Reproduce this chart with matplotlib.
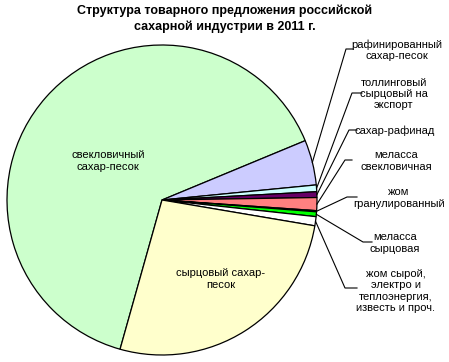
import numpy as np
import matplotlib
matplotlib.use('Agg')
import matplotlib.pyplot as plt

plt.rcParams['font.family'] = ['Liberation Sans', 'DejaVu Sans']

# Data (shares, %), clockwise order as in the chart
labels = ['свекловичный\nсахар-песок',
          'рафинированный\nсахар-песок',
          'толлинговый\nсырцовый на\nэкспорт',
          'сахар-рафинад',
          'меласса\nсвекловичная',
          'жом\nгранулированный',
          'меласса\nсырцовая',
          'жом сырой,\nэлектро и\nтеплоэнергия,\nизвесть и проч.',
          'сырцовый сахар-\nпесок']
shares = [64.4, 4.7, 0.7, 0.6, 1.35, 0.12, 0.5, 0.95, 26.7]
colors = ['#CCFFCC', '#CCCCFF', '#CCFFFF', '#660066', '#FF8080',
          '#FFFFFF', '#00FF00', '#FFFFFF', '#FFFFCC']

W, H = 449, 362
fig = plt.figure(figsize=(W / 100, H / 100), dpi=100)
ax = fig.add_axes([0, 0, 1, 1])

cx, cy, R = 162, H - 200, 155
wedges, _ = ax.pie(shares, colors=colors, startangle=254.3, counterclock=False,
                   center=(cx, cy), radius=R, frame=True,
                   wedgeprops=dict(edgecolor='black', linewidth=0.9))
ax.set_xlim(0, W)
ax.set_ylim(0, H)
ax.axis('off')

ax.text(W / 2, H - 19, 'Структура товарного предложения российской\nсахарной индустрии в 2011 г.',
        ha='center', va='center', fontsize=9, fontweight='bold', linespacing=1.35)

# inner labels
ax.text(108, H - 161, labels[0], ha='center', va='center', fontsize=8)
ax.text(221, H - 279, labels[8], ha='center', va='center', fontsize=8)

# outer labels: (text x, text y, tick x0, tick x1, tick y) in pixels
outer = [(397, 50, 346, 353, 49),
         (394, 94, 352, 362, 93),
         (395, 131, 349, 357, 130),
         (396, 161, 345, 352, 160),
         (399, 198, 347, 357, 197),
         (395, 243, 363, 372, 242),
         (396, 291, 345, 357, 288)]
for i, (tx, ty, x0, x1, yt) in zip(range(1, 8), outer):
    w = wedges[i]
    ang = np.deg2rad((w.theta1 + w.theta2) / 2)
    px, py = cx + R * np.cos(ang), cy + R * np.sin(ang)
    ax.plot([px, x0, x1], [py, H - yt, H - yt], color='black', lw=0.8)
    ax.text(tx, H - ty, labels[i], ha='center', va='center', fontsize=8,
            linespacing=1.15)

fig.savefig('out.png', dpi=100)
